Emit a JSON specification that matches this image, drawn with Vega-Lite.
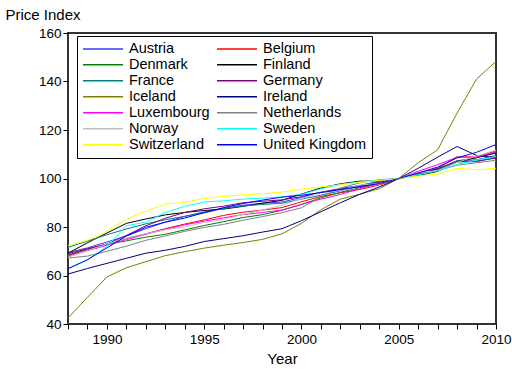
{
  "$schema": "https://vega.github.io/schema/vega-lite/v6.json",
  "width": 428,
  "height": 291,
  "autosize": {"type": "none"},
  "padding": {"left": 68, "top": 33, "right": 16, "bottom": 45},
  "background": "white",
  "config": {
    "view": {"stroke": "#333333", "strokeWidth": 2},
    "font": "Liberation Sans",
    "axis": {
      "grid": false,
      "domain": false,
      "tickColor": "black",
      "tickSize": 5,
      "labelFont": "Liberation Sans",
      "labelFontSize": 13.5,
      "labelColor": "black",
      "titleFont": "Liberation Sans",
      "titleFontSize": 15,
      "titleFontWeight": "normal",
      "titleColor": "black"
    },
    "legend": {
      "orient": "none",
      "legendX": 9,
      "legendY": 3,
      "direction": "horizontal",
      "columns": 2,
      "symbolType": "stroke",
      "symbolSize": 1600,
      "symbolStrokeWidth": 1.5,
      "clipHeight": 15.6,
      "labelFont": "Liberation Sans",
      "labelFontSize": 14.5,
      "labelColor": "black",
      "labelAlign": "left",
      "labelOffset": 5,
      "strokeColor": "black",
      "fillColor": "white",
      "padding": 5,
      "columnPadding": 6,
      "rowPadding": -1
    }
  },
  "data": {
    "values": [
      {"year": 1988, "Austria": 69.5, "Belgium": 68.3, "Denmark": 68.5, "Finland": 69.2, "France": 71.6, "Germany": 69.0, "Iceland": 42.5, "Ireland": 60.6, "Luxembourg": 68.0, "Netherlands": 67.2, "Norway": 67.5, "Sweden": 62.8, "Switzerland": 72.3, "United Kingdom": 62.8},
      {"year": 1989, "Austria": 71.4, "Belgium": 70.6, "Denmark": 71.0, "Finland": 73.5, "France": 74.2, "Germany": 71.0, "Iceland": 51.0, "Ireland": 62.9, "Luxembourg": 70.2, "Netherlands": 68.0, "Norway": 70.3, "Sweden": 66.5, "Switzerland": 74.5, "United Kingdom": 66.5},
      {"year": 1990, "Austria": 73.8, "Belgium": 73.0, "Denmark": 72.8, "Finland": 77.5, "France": 76.8, "Germany": 73.0, "Iceland": 59.4, "Ireland": 65.0, "Luxembourg": 72.5, "Netherlands": 70.0, "Norway": 73.0, "Sweden": 72.0, "Switzerland": 78.2, "United Kingdom": 71.4},
      {"year": 1991, "Austria": 76.3, "Belgium": 75.3, "Denmark": 74.3, "Finland": 81.5, "France": 79.2, "Germany": 76.5, "Iceland": 63.2, "Ireland": 67.1, "Luxembourg": 74.8, "Netherlands": 72.1, "Norway": 75.4, "Sweden": 80.5, "Switzerland": 83.2, "United Kingdom": 76.3},
      {"year": 1992, "Austria": 79.3, "Belgium": 77.2, "Denmark": 75.8, "Finland": 83.3, "France": 81.3, "Germany": 80.5, "Iceland": 65.7, "Ireland": 69.2, "Luxembourg": 77.0, "Netherlands": 74.5, "Norway": 77.2, "Sweden": 82.0, "Switzerland": 86.5, "United Kingdom": 79.9},
      {"year": 1993, "Austria": 82.0, "Belgium": 79.3, "Denmark": 77.0, "Finland": 85.0, "France": 83.0, "Germany": 83.6, "Iceland": 68.2, "Ireland": 70.4, "Luxembourg": 79.0, "Netherlands": 76.3, "Norway": 78.9, "Sweden": 86.0, "Switzerland": 89.4, "United Kingdom": 82.0},
      {"year": 1994, "Austria": 84.4, "Belgium": 81.2, "Denmark": 78.8, "Finland": 86.0, "France": 84.4, "Germany": 86.0, "Iceland": 69.8, "Ireland": 72.0, "Luxembourg": 80.9, "Netherlands": 78.2, "Norway": 80.0, "Sweden": 88.5, "Switzerland": 90.2, "United Kingdom": 83.7},
      {"year": 1995, "Austria": 86.2, "Belgium": 82.9, "Denmark": 80.6, "Finland": 86.8, "France": 85.9, "Germany": 87.5, "Iceland": 71.3, "Ireland": 74.0, "Luxembourg": 82.4, "Netherlands": 79.8, "Norway": 81.9, "Sweden": 90.3, "Switzerland": 91.8, "United Kingdom": 85.9},
      {"year": 1996, "Austria": 87.8, "Belgium": 84.8, "Denmark": 82.2, "Finland": 87.4, "France": 87.6, "Germany": 88.6, "Iceland": 72.5, "Ireland": 75.2, "Luxembourg": 83.8, "Netherlands": 81.1, "Norway": 83.1, "Sweden": 90.8, "Switzerland": 92.6, "United Kingdom": 88.0},
      {"year": 1997, "Austria": 89.0, "Belgium": 86.1, "Denmark": 83.9, "Finland": 88.5, "France": 88.7, "Germany": 90.0, "Iceland": 73.6, "Ireland": 76.4, "Luxembourg": 85.1, "Netherlands": 82.8, "Norway": 85.2, "Sweden": 91.5, "Switzerland": 93.3, "United Kingdom": 89.7},
      {"year": 1998, "Austria": 89.8, "Belgium": 87.0, "Denmark": 85.1, "Finland": 89.8, "France": 89.3, "Germany": 90.6, "Iceland": 74.9, "Ireland": 77.9, "Luxembourg": 86.0, "Netherlands": 84.3, "Norway": 87.0, "Sweden": 91.9, "Switzerland": 93.7, "United Kingdom": 91.1},
      {"year": 1999, "Austria": 90.3, "Belgium": 88.0, "Denmark": 86.9, "Finland": 91.0, "France": 89.8, "Germany": 91.2, "Iceland": 77.2, "Ireland": 79.3, "Luxembourg": 87.0, "Netherlands": 85.9, "Norway": 89.0, "Sweden": 92.4, "Switzerland": 94.4, "United Kingdom": 92.3},
      {"year": 2000, "Austria": 92.2, "Belgium": 90.4, "Denmark": 89.3, "Finland": 93.6, "France": 91.5, "Germany": 92.5, "Iceland": 81.5, "Ireland": 82.6, "Luxembourg": 89.3, "Netherlands": 87.9, "Norway": 91.7, "Sweden": 93.5, "Switzerland": 95.6, "United Kingdom": 93.1},
      {"year": 2001, "Austria": 94.3, "Belgium": 92.6, "Denmark": 92.0, "Finland": 96.1, "France": 93.1, "Germany": 94.3, "Iceland": 87.1, "Ireland": 86.3, "Luxembourg": 91.5, "Netherlands": 92.5, "Norway": 94.2, "Sweden": 95.7, "Switzerland": 96.5, "United Kingdom": 94.2},
      {"year": 2002, "Austria": 95.9, "Belgium": 94.1, "Denmark": 94.3, "Finland": 97.8, "France": 94.9, "Germany": 95.6, "Iceland": 91.5, "Ireland": 90.0, "Luxembourg": 93.4, "Netherlands": 96.1, "Norway": 95.0, "Sweden": 97.6, "Switzerland": 97.4, "United Kingdom": 95.4},
      {"year": 2003, "Austria": 97.1, "Belgium": 95.5, "Denmark": 96.2, "Finland": 98.9, "France": 97.0, "Germany": 96.6, "Iceland": 93.5, "Ireland": 93.5, "Luxembourg": 95.8, "Netherlands": 98.2, "Norway": 97.3, "Sweden": 98.6, "Switzerland": 98.4, "United Kingdom": 96.7},
      {"year": 2004, "Austria": 98.9, "Belgium": 97.3, "Denmark": 97.9, "Finland": 99.0, "France": 98.7, "Germany": 98.4, "Iceland": 95.8, "Ireland": 96.5, "Luxembourg": 98.0, "Netherlands": 99.5, "Norway": 97.9, "Sweden": 99.3, "Switzerland": 99.2, "United Kingdom": 97.9},
      {"year": 2005, "Austria": 100, "Belgium": 100, "Denmark": 100, "Finland": 100, "France": 100, "Germany": 100, "Iceland": 100, "Ireland": 100, "Luxembourg": 100, "Netherlands": 100, "Norway": 100, "Sweden": 100, "Switzerland": 100, "United Kingdom": 100},
      {"year": 2006, "Austria": 101.7, "Belgium": 102.3, "Denmark": 101.9, "Finland": 101.3, "France": 101.9, "Germany": 101.8, "Iceland": 106.5, "Ireland": 104.2, "Luxembourg": 103.0, "Netherlands": 101.7, "Norway": 102.5, "Sweden": 101.5, "Switzerland": 101.0, "United Kingdom": 102.3},
      {"year": 2007, "Austria": 103.9, "Belgium": 104.2, "Denmark": 103.6, "Finland": 102.9, "France": 103.5, "Germany": 104.1, "Iceland": 111.8, "Ireland": 108.8, "Luxembourg": 105.7, "Netherlands": 103.3, "Norway": 103.2, "Sweden": 103.2, "Switzerland": 101.8, "United Kingdom": 104.7},
      {"year": 2008, "Austria": 107.3, "Belgium": 108.9, "Denmark": 107.3, "Finland": 106.9, "France": 106.8, "Germany": 107.0, "Iceland": 127.0, "Ireland": 113.2, "Luxembourg": 108.8, "Netherlands": 105.5, "Norway": 106.7, "Sweden": 105.8, "Switzerland": 104.2, "United Kingdom": 108.5},
      {"year": 2009, "Austria": 107.7, "Belgium": 108.9, "Denmark": 108.5, "Finland": 108.6, "France": 106.9, "Germany": 107.2, "Iceland": 141.0, "Ireland": 109.5, "Luxembourg": 108.8, "Netherlands": 106.5, "Norway": 109.2, "Sweden": 107.6, "Switzerland": 103.6, "United Kingdom": 110.8},
      {"year": 2010, "Austria": 109.5, "Belgium": 111.4, "Denmark": 110.9, "Finland": 110.5, "France": 108.7, "Germany": 108.4, "Iceland": 148.3, "Ireland": 108.6, "Luxembourg": 111.0, "Netherlands": 107.5, "Norway": 111.7, "Sweden": 109.0, "Switzerland": 104.2, "United Kingdom": 114.0}
    ]
  },
  "transform": [
    {"fold": ["Austria", "Belgium", "Denmark", "Finland", "France", "Germany", "Iceland", "Ireland", "Luxembourg", "Netherlands", "Norway", "Sweden", "Switzerland", "United Kingdom"], "as": ["country", "value"]}
  ],
  "mark": {"type": "line", "strokeWidth": 1, "clip": true},
  "encoding": {
    "x": {
      "field": "year",
      "type": "quantitative",
      "scale": {"domain": [1988, 2010], "nice": false, "zero": false},
      "axis": {
        "title": "Year",
        "values": [1988, 1989, 1990, 1991, 1992, 1993, 1994, 1995, 1996, 1997, 1998, 1999, 2000, 2001, 2002, 2003, 2004, 2005, 2006, 2007, 2008, 2009, 2010],
        "labelExpr": "datum.value % 5 === 0 ? datum.value : ''",
        "labelPadding": 3,
        "labelFlush": false,
        "labelOverlap": false,
        "titlePadding": 6
      }
    },
    "y": {
      "field": "value",
      "type": "quantitative",
      "scale": {"domain": [40, 160], "nice": false, "zero": false},
      "axis": {
        "title": "Price Index",
        "values": [40, 60, 80, 100, 120, 140, 160],
        "labelPadding": 2,
        "titleAngle": 0,
        "titleAlign": "left",
        "titleBaseline": "middle",
        "titleX": -63,
        "titleY": -19
      }
    },
    "color": {
      "field": "country",
      "type": "nominal",
      "sort": ["Austria", "Belgium", "Denmark", "Finland", "France", "Germany", "Iceland", "Ireland", "Luxembourg", "Netherlands", "Norway", "Sweden", "Switzerland", "United Kingdom"],
      "scale": {
        "domain": ["Austria", "Belgium", "Denmark", "Finland", "France", "Germany", "Iceland", "Ireland", "Luxembourg", "Netherlands", "Norway", "Sweden", "Switzerland", "United Kingdom"],
        "range": ["#3a3aff", "#ff0000", "#008000", "#000000", "#008080", "#800080", "#808000", "#000080", "#ff00ff", "#808080", "#c0c0c0", "#00ffff", "#ffff00", "#0000ff"]
      },
      "legend": {"title": null}
    }
  }
}
